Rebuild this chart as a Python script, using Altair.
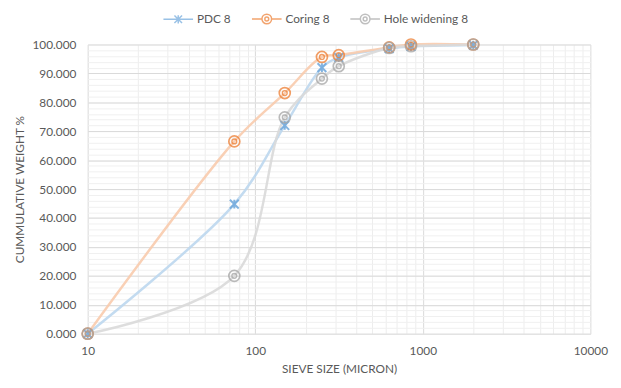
import altair as alt
import pandas as pd

# ---- data ----
sizes = [10, 75, 150, 250, 315, 630, 850, 2000]
pdc = [0.0, 44.8, 72.0, 92.0, 95.5, 98.6, 99.3, 99.8]
coring = [0.0, 66.5, 83.2, 95.7, 96.3, 99.0, 100.0, 100.0]
hole = [0.0, 20.0, 74.8, 88.2, 92.5, 98.8, 99.4, 100.0]

series_names = ["PDC 8", "Coring 8", "Hole widening 8"]
line_colors = ["#BDD7EE", "#F8CBAD", "#D9D9D9"]
marker_colors = ["#6FA8DC", "#ED7D31", "#A5A5A5"]

x_major = [10, 100, 1000, 10000]
x_minor = [d * m for d in [10, 100, 1000] for m in range(2, 10)]
y_major = list(range(0, 101, 10))
y_minor = list(range(0, 101, 2))

rows = []
for name, vals, lc, mc in zip(series_names, [pdc, coring, hole], line_colors, marker_colors):
    for s, v in zip(sizes, vals):
        rows.append({"series": name, "size": s, "value": v, "lc": lc, "mc": mc})
df = pd.DataFrame(rows)

FONT = "Lato"
TXT = "#595959"

xscale = alt.Scale(type="log", domain=[10, 10000], nice=False)
yscale = alt.Scale(domain=[0, 100], nice=False)

x_minor_axis = alt.Axis(values=x_minor, labels=False, ticks=False, domain=False, title=None,
                        grid=True, gridColor="#EDEDED", gridWidth=1, orient="bottom")
y_minor_axis = alt.Axis(values=y_minor, labels=False, ticks=False, domain=False, title=None,
                        grid=True, gridColor="#F0F0F0", gridWidth=1, orient="left")
x_major_axis = alt.Axis(values=x_major, format="d", ticks=False, domain=False, grid=True,
                        gridColor="#D9D9D9", gridWidth=1, labelFlush=False, labelPadding=12,
                        title="SIEVE SIZE (MICRON)", titlePadding=7, orient="bottom")
y_major_axis = alt.Axis(values=y_major, format=".3f", ticks=False, domain=False, grid=True,
                        gridColor="#D9D9D9", gridWidth=1, labelPadding=12,
                        title="CUMMULATIVE WEIGHT %", titlePadding=6, orient="left")

base = alt.Chart(df)

lines = base.mark_line(interpolate="catmull-rom", strokeWidth=2.5, opacity=0.9).encode(
    x=alt.X("size:Q", scale=xscale, axis=x_minor_axis),
    y=alt.Y("value:Q", scale=yscale, axis=y_minor_axis),
    stroke=alt.Stroke("lc:N", scale=None),
    detail="series:N",
)

star_path = "M-1,-1L1,1M-1,1L1,-1M0,-1L0,1"

stars = base.transform_filter(alt.datum.series == "PDC 8").mark_point(
    shape=star_path, size=80, strokeWidth=2, filled=False, opacity=0.85
).encode(
    x=alt.X("size:Q", scale=xscale, axis=x_major_axis),
    y=alt.Y("value:Q", scale=yscale, axis=y_major_axis),
    stroke=alt.Stroke("mc:N", scale=None),
)

circ = base.transform_filter(alt.datum.series != "PDC 8")
outer = circ.mark_point(shape="circle", size=125, strokeWidth=1.7, filled=False, opacity=0.75).encode(
    x=alt.X("size:Q", scale=xscale, axis=None),
    y=alt.Y("value:Q", scale=yscale, axis=None),
    stroke=alt.Stroke("mc:N", scale=None),
)
inner = circ.mark_point(shape="circle", size=24, strokeWidth=1.4, filled=False, opacity=0.75).encode(
    x=alt.X("size:Q", scale=xscale, axis=None),
    y=alt.Y("value:Q", scale=yscale, axis=None),
    stroke=alt.Stroke("mc:N", scale=None),
)

# legend symbols: a short line with the series marker in its middle (x from -1 to 3.3)
ring = ("M0.45,0A0.7,0.7 0 1,1 1.85,0A0.7,0.7 0 1,1 0.45,0"
        "M0.87,0A0.28,0.28 0 1,1 1.43,0A0.28,0.28 0 1,1 0.87,0")
legend_paths = [
    "M-1,0L3.3,0M0.6,-0.55L1.7,0.55M0.6,0.55L1.7,-0.55M1.15,-0.6L1.15,0.6",
    "M-1,0L0.45,0M1.85,0L3.3,0" + ring,
    "M-1,0L0.45,0M1.85,0L3.3,0" + ring,
]

legend_layer = base.transform_filter("false").mark_point(filled=False).encode(
    color=alt.Color("series:N", scale=alt.Scale(domain=series_names, range=marker_colors),
                    legend=alt.Legend(title=None, orient="none", direction="horizontal",
                                      legendX=76, legendY=-34,
                                      symbolSize=196, symbolStrokeWidth=1.5,
                                      labelFont=FONT, labelFontSize=12, labelColor=TXT,
                                      columnPadding=18, labelOffset=19)),
    shape=alt.Shape("series:N", scale=alt.Scale(domain=series_names, range=legend_paths)),
)

chart = alt.layer(lines, stars, outer, inner, legend_layer).resolve_axis(
    x="independent", y="independent"
).properties(
    width=511, height=294, padding={"top": 0, "left": 5, "right": 5, "bottom": 5}
).configure_view(stroke=None).configure_axis(
    labelFont=FONT, labelFontSize=12, labelColor=TXT,
    titleFont=FONT, titleFontSize=12, titleColor=TXT, titleFontWeight="normal",
)

chart.save("out.html", embed_options={"renderer": "svg", "actions": False})
